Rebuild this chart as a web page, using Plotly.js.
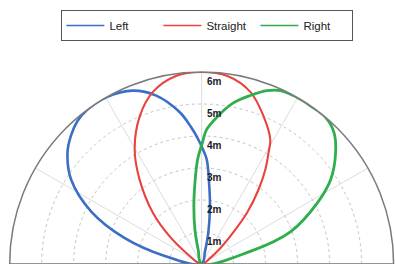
<!DOCTYPE html>
<html>
<head>
<meta charset="utf-8">
<script src="https://cdn.plot.ly/plotly-3.0.1.min.js"></script>
<style>html,body{margin:0;padding:0;background:#fff;}#chart{width:395px;height:264px;}</style>
</head>
<body>
<div id="chart"></div>
<script>
// Left (blue)
const leftTheta = [172, 167.7, 161.3, 154.6, 147.1, 140.3, 135.6, 130.9, 126.7, 119.6, 111.7, 105.1, 98.2, 94.5, 91.6, 89.5, 87.2, 84.4, 81.8, 77.9, 75, 72];
const leftR     = [0, 1.18, 2.55, 3.82, 4.86, 5.45, 5.72, 5.92, 6.0, 6.0, 5.83, 5.45, 4.79, 4.3, 3.9, 3.6, 3.27, 2.44, 1.82, 0.99, 0.4, 0];
// Straight (red)
const straightTheta = [30, 34.5, 40, 44, 48.4, 52.6, 56, 59, 61.2, 67.3, 74.2, 82.2, 90, 97.8, 105.8, 112.7, 120.3, 126.3, 133.7, 139.3, 144.5, 150];
const straightR     = [0, 0.32, 0.75, 1.24, 2.13, 2.93, 3.56, 4.06, 4.45, 5.01, 5.59, 5.93, 6.0, 5.93, 5.59, 5.01, 4.15, 3.28, 2.2, 1.32, 0.58, 0];
// Right (green)
const rightTheta = [12, 14.5, 19.9, 27.9, 33.2, 39.8, 44.8, 49.7, 55.2, 60.7, 65.6, 69.3, 73.9, 79, 84, 87.9, 89.6, 92.2, 94.7, 97.7, 101.1, 103.7, 106];
const rightR     = [0, 1.57, 2.95, 4.10, 4.82, 5.45, 5.83, 6.0, 6.0, 6.0, 5.95, 5.79, 5.48, 5.12, 4.62, 4.2, 3.8, 3.27, 2.55, 1.82, 1.09, 0.45, 0];

const seriesNames = ["Left", "Straight", "Right"];
const tickVals = [1, 2, 3, 4, 5, 6];
const tickLabels = ["1m", "2m", "3m", "4m", "5m", "6m"];

const colors = ["#3b6fc6", "#e8433e", "#2eae4c"];
const widths = [2.6, 2.1, 2.8];
const thetas = [leftTheta, straightTheta, rightTheta];
const rs = [leftR, straightR, rightR];

const traces = seriesNames.map((name, i) => ({
  type: "scatterpolar",
  mode: "lines",
  name: name,
  legendgroup: name,
  showlegend: false,
  r: rs[i],
  theta: thetas[i],
  line: {color: colors[i], width: widths[i], shape: "spline", smoothing: 1},
  hoverinfo: "skip"
}));

// legend entries (thin sample lines like the reference legend)
seriesNames.forEach((name, i) => {
  traces.push({
    type: "scatterpolar",
    mode: "lines",
    name: name,
    legendgroup: name,
    showlegend: true,
    r: [null],
    theta: [null],
    line: {color: colors[i], width: 1.6},
    hoverinfo: "skip"
  });
});

traces.push({
  type: "scatterpolar",
  mode: "markers+text",
  r: tickVals,
  theta: tickVals.map(() => 90),
  text: tickLabels,
  textposition: "bottom right",
  marker: {size: 7, opacity: 0},
  textfont: {family: "Liberation Sans, Arial, sans-serif", size: 10, color: "#1a1a1a", weight: "bold"},
  showlegend: false,
  hoverinfo: "skip",
  cliponaxis: false
});

const layout = {
  width: 395,
  height: 264,
  margin: {l: 0, r: 0, t: 0, b: 0},
  paper_bgcolor: "#fff",
  showlegend: true,
  hovermode: false,
  font: {family: "Liberation Sans, Arial, sans-serif", color: "#222"},
  legend: {
    orientation: "h",
    x: 0.525, xanchor: "center",
    y: 0.962, yanchor: "top",
    bordercolor: "#555", borderwidth: 1,
    bgcolor: "#fff",
    font: {size: 11.5, color: "#222"},
    entrywidth: 44,
    itemwidth: 38
  },
  polar: {
    sector: [0, 180],
    domain: {x: [0.0245, 0.9965], y: [0, 0.7273]},
    bgcolor: "#fff",
    radialaxis: {
      range: [0, 6],
      tickvals: tickVals,
      ticktext: tickLabels,
      showticklabels: false,
      ticks: "",
      showline: false,
      gridcolor: "#c4c4c4",
      griddash: "dot",
      gridwidth: 1,
      angle: 90
    },
    angularaxis: {
      tickmode: "linear",
      tick0: 0,
      dtick: 30,
      showticklabels: false,
      ticks: "",
      gridcolor: "#dddddd",
      gridwidth: 1,
      linecolor: "#7a7a7a",
      linewidth: 1.5,
      rotation: 0,
      direction: "counterclockwise"
    }
  }
};

Plotly.newPlot("chart", traces, layout, {displayModeBar: false, staticPlot: true});
</script>
</body>
</html>
